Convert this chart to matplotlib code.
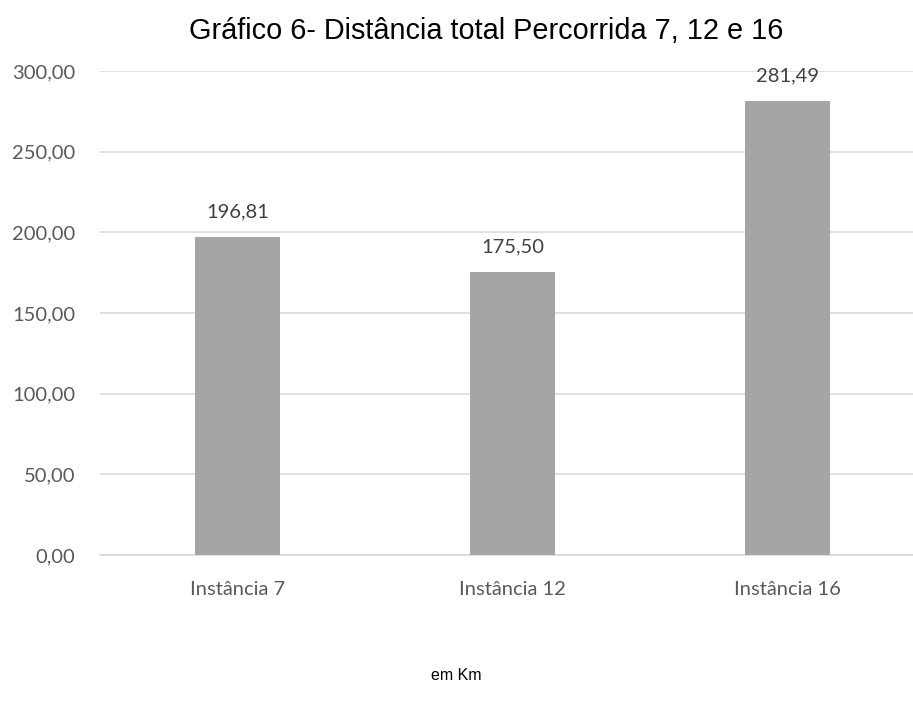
import matplotlib
matplotlib.use("Agg")
import matplotlib.pyplot as plt

categories = ["Instância 7", "Instância 12", "Instância 16"]
values = [196.81, 175.50, 281.49]
y_ticks = [0, 50, 100, 150, 200, 250, 300]

W, H = 913, 711
fig = plt.figure(figsize=(W / 100, H / 100), dpi=100)
ax = fig.add_axes([100 / W, (H - 555) / H, 825 / W, (555 - 71) / H])

x = range(len(categories))
ax.bar(x, values, width=0.31, color="#A5A5A5", zorder=3)
ax.set_xlim(-0.5, 2.5)
ax.set_ylim(0, 300)

ax.set_yticks(y_ticks)
ax.set_yticklabels([f"{v:.2f}".replace(".", ",") for v in y_ticks])
ax.set_xticks(list(x))
ax.set_xticklabels(categories)

for lbl in ax.get_yticklabels() + ax.get_xticklabels():
    lbl.set_fontfamily("Lato")
    lbl.set_fontsize(14.5)
    lbl.set_color("#595959")

ax.tick_params(axis="both", length=0)
ax.tick_params(axis="y", pad=18)
ax.tick_params(axis="x", pad=19)

ax.yaxis.grid(True, color="#D9D9D9", linewidth=1.2, zorder=0)
for s in ["top", "right", "left"]:
    ax.spines[s].set_visible(False)
ax.spines["bottom"].set_color("#D9D9D9")
ax.spines["bottom"].set_linewidth(1.2)

for xi, v in zip(x, values):
    ax.annotate(f"{v:.2f}".replace(".", ","), (xi, v), xytext=(0, 12),
                textcoords="offset points", ha="center", va="bottom",
                fontfamily="Lato", fontsize=14.5, color="#404040")

fig.text(486 / W, 1 - 31 / H, "Gráfico 6- Distância total Percorrida 7, 12 e 16",
         ha="center", va="center", family="Liberation Sans", fontsize=20.8, color="black")
fig.text(456 / W, 1 - 675 / H, "em Km", ha="center", va="center",
         family="Liberation Sans", fontsize=11.5, color="black")

fig.savefig("out.png", dpi=100, facecolor="white")
